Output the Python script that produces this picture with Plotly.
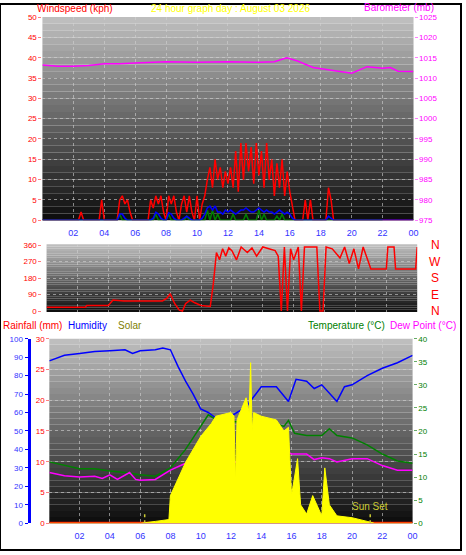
import plotly.graph_objects as go

# ---- top panel: wind & barometer ----
wind_t = [i / 6 for i in range(145)]
gust = [0, 0, 0, 0, 0, 0,
        0, 0, 0, 0, 0, 0,
        0, 0, 0, 2, 0, 0,
        0, 0, 0, 0, 0, 5,
        0, 0, 0, 0, 0, 0,
        5, 6, 4, 5, 2, 0,
        0, 0, 0, 0, 0, 0,
        5, 3, 6, 4, 6, 2,
        0, 6, 4, 6, 2, 0,
        4, 6, 2, 6, 2, 0,
        6, 0, 4, 6, 10, 13,
        8, 15, 10, 13, 8, 12,
        9, 13, 8, 17, 7, 19,
        10, 19, 12, 18, 9, 19,
        11, 17, 8, 19, 10, 15,
        6, 14, 8, 15, 6, 12,
        7, 3, 0, 0, 0, 0,
        5, 0, 5, 0, 0, 0,
        0, 0, 0, 8, 5, 0,
        0, 0, 0, 0, 0, 0,
        0, 0, 0, 0, 0, 0,
        0, 0, 0, 0, 0, 0,
        0, 0, 0, 0, 0, 0,
        0, 0, 0, 0, 0, 0, 0]
avg = [0, 0, 0, 0, 0, 0,
       0, 0, 0, 0, 0, 0,
       0, 0, 0, 0, 0, 0,
       0, 0, 0, 0, 0, 0,
       0, 0, 0, 0, 0, 0,
       1.5, 1.5, 0.5, 0, 0, 0,
       0, 0, 0, 0, 0, 0,
       0, 0.5, 2, 1.5, 0.5, 0,
       0, 1.8, 1.5, 0.5, 0, 0,
       0, 0.5, 1, 0.5, 0, 0,
       0, 0, 0.5, 1.5, 3, 3.5,
       2.5, 3.5, 2, 2, 1.5, 2.5,
       2, 2.5, 2, 1.5, 2, 2.5,
       2.5, 3, 2.5, 2, 2, 2.5,
       3, 2.5, 2, 2.5, 2, 2,
       1.5, 2, 2.5, 2, 1.5, 2,
       1.5, 0.5, 0, 0, 0, 0,
       0, 0, 0, 0, 0, 0,
       0, 0, 0, 1, 0.5, 0,
       0, 0, 0, 0, 0, 0,
       0, 0, 0, 0, 0, 0,
       0, 0, 0, 0, 0, 0,
       0, 0, 0, 0, 0, 0,
       0, 0, 0, 0, 0, 0, 0]
inst = [0] * 30 + [1.5, 0, 0, 0, 0, 0] + [0] * 6 + [0, 0, 1.5, 0, 0, 0] + [0, 1.5, 0, 0, 0, 0] + \
       [0, 0, 1, 0, 0, 0] + [0, 0, 0, 0, 2.5, 0] + [2.5, 0, 1.5, 0, 0, 0] + [0, 0, 1.5, 0, 0, 0] + \
       [0, 1.5, 0, 0, 0, 0] + [2.5, 0, 1.5, 0, 0, 0] + [0, 1, 0, 1.5, 0, 0] + [0] * 37
baro_t = [0, 1, 2, 3, 4, 5, 6, 7, 8, 10, 12, 14, 15, 15.8, 16.5, 17.5, 19, 20, 21, 22, 22.5, 23, 24]
baro = [1013.2, 1012.9, 1012.9, 1013.1, 1013.5, 1013.5, 1013.7, 1013.9, 1014, 1013.9, 1014, 1013.9,
        1014, 1015, 1014.2, 1012.6, 1011.8, 1011.2, 1012.8, 1012.4, 1012.6, 1011.7, 1011.6]

# ---- middle panel: wind direction ----
dir_t = [0, 2.5, 2.6, 4, 4.3, 5, 6, 7.5, 7.8, 8.0, 8.3, 8.6, 8.8, 9.0, 9.3, 9.6, 10, 10.6, 10.8, 11,
         11.2, 11.4, 11.6, 11.8, 12, 12.3, 12.6, 13, 13.3, 13.6, 14, 14.4, 14.8, 15.0, 15.2, 15.4, 15.6,
         15.8, 16.0, 16.3, 16.5, 16.7, 17, 17.5, 17.7, 17.9, 18.1, 18.5, 19, 19.3, 19.6, 19.9, 20.2,
         20.5, 21, 21.5, 22, 22.1, 22.5, 22.6, 23.5, 23.9, 24]
wdir = [20, 20, 30, 30, 60, 55, 55, 55, 70, 95, 40, 5, 0, 40, 60, 45, 30, 25, 150, 320, 280, 340, 300,
        345, 330, 280, 350, 320, 345, 300, 350, 340, 330, 300, 0, 350, 0, 340, 280, 350, 0, 350, 350,
        350, 0, 0, 350, 340, 290, 350, 260, 340, 230, 350, 230, 230, 230, 350, 350, 230, 230, 230, 350]

# ---- bottom panel: temps, humidity, solar ----
temp_t = [0, 1, 2, 3, 4, 5, 6, 7, 8, 9, 10, 10.5, 11, 11.5, 12, 12.5, 13, 13.5, 14, 15, 15.5, 15.8,
          16.2, 17, 18, 18.5, 19, 20, 21, 22, 23, 24]
temp = [13.3, 12.5, 11.8, 11.8, 11.3, 11, 10.5, 10.2, 12, 16, 21, 23.5, 22.5, 22.5, 22, 22, 22, 20.5,
        21, 21.5, 21, 22.3, 19.5, 19, 19, 20.5, 19, 18.5, 17, 15, 13.5, 13]
dew_t = [0, 1, 2, 3, 3.5, 4, 4.5, 5.3, 5.7, 6, 7, 8, 9, 9.5, 10, 10.5, 11, 11.3, 12, 12.5, 13, 14, 15,
         15.5, 16, 17, 17.5, 18, 18.5, 19, 20, 21, 22, 23, 24]
dew = [11, 10.3, 10, 10.2, 9.7, 10.5, 9.5, 11, 9.5, 9.3, 9.5, 11.5, 13, 15, 15.5, 16, 15, 13.5, 13.5, 13,
       14.5, 16, 16.5, 16, 15, 15, 13.8, 14.2, 14, 13.3, 14, 14, 12.5, 11.5, 11.5]
hum_t = [0, 1, 2, 3, 4, 5, 5.5, 6, 7, 7.5, 8, 8.5, 9, 9.5, 10, 10.5, 11, 11.5, 12, 13, 14, 15, 15.8,
         16.3, 17, 17.5, 18, 19, 19.5, 20, 21, 22, 23, 24]
hum = [88, 91, 92, 93, 93.5, 94, 92, 93.5, 94, 95, 94, 85, 77, 70, 62, 60, 57, 57, 58, 63, 74, 74, 66,
       78, 77, 73, 75, 66, 74, 75, 80, 84, 87, 91]
solar_t = [0, 6, 7, 7.9, 8, 9, 10, 10.7, 11, 12, 12.2, 12.3, 12.4, 12.6, 13, 13.2, 13.3, 13.4, 13.5, 14,
           15, 15.5, 15.8, 16, 16.4, 16.6, 17, 17.4, 17.8, 18, 18.2, 18.5, 19, 20, 21, 21.5, 24]
solar = [0, 0, 10, 20, 150, 330, 470, 540, 580, 600, 580, 220, 560, 600, 680, 600, 870, 500, 600, 580,
         560, 500, 520, 150, 350, 100, 50, 150, 80, 40, 300, 100, 40, 30, 10, 0, 0]
rain_t = [0, 24]
rain = [0, 0]

hours = [2, 4, 6, 8, 10, 12, 14, 16, 18, 20, 22, 24]
hour_labels = ["02", "04", "06", "08", "10", "12", "14", "16", "18", "20", "22", "00"]

FONT = "Liberation Sans"
fig = go.Figure()
fig.add_trace(go.Scatter(x=wind_t, y=gust, mode="lines", line=dict(color="#ff0000", width=1.5), xaxis="x", yaxis="y"))
fig.add_trace(go.Scatter(x=wind_t, y=inst, mode="lines", line=dict(color="#008000", width=1.5), xaxis="x", yaxis="y"))
fig.add_trace(go.Scatter(x=wind_t, y=avg, mode="lines", line=dict(color="#0000ff", width=1.5), xaxis="x", yaxis="y"))
fig.add_trace(go.Scatter(x=baro_t, y=baro, mode="lines", line=dict(color="#ff00ff", width=1.5), xaxis="x", yaxis="y2"))
fig.add_trace(go.Scatter(x=dir_t, y=wdir, mode="lines", line=dict(color="#ff0000", width=1.5), xaxis="x2", yaxis="y3"))
fig.add_trace(go.Scatter(x=solar_t, y=solar, mode="lines", fill="tozeroy", fillcolor="#ffff00",
                         line=dict(color="#ffff00", width=1), xaxis="x3", yaxis="y7"))
fig.add_trace(go.Scatter(x=hum_t, y=hum, mode="lines", line=dict(color="#0000ff", width=1.5), xaxis="x3", yaxis="y5"))
fig.add_trace(go.Scatter(x=temp_t, y=temp, mode="lines", line=dict(color="#008000", width=1.5), xaxis="x3", yaxis="y6"))
fig.add_trace(go.Scatter(x=dew_t, y=dew, mode="lines", line=dict(color="#ff00ff", width=1.5), xaxis="x3", yaxis="y6"))
fig.add_trace(go.Scatter(x=rain_t, y=rain, mode="lines", line=dict(color="#ff0000", width=3), xaxis="x3", yaxis="y4"))

xcommon = dict(range=[0, 24], tickvals=hours, ticktext=hour_labels, showgrid=True,
               gridcolor="rgba(210,210,210,0.6)", griddash="dot", zeroline=False,
               tickfont=dict(color="#3333ff", size=9, family=FONT), ticks="", showline=False,
               ticklabelstandoff=6)
ycommon = dict(showgrid=True, gridcolor="rgba(210,210,210,0.6)", griddash="dot", zeroline=False,
               ticks="outside", ticklen=3, showline=False)

fig.update_layout(
    width=466, height=555, margin=dict(l=0, r=0, t=0, b=0), showlegend=False,
    paper_bgcolor="white", plot_bgcolor="rgba(0,0,0,0)",
    xaxis=dict(xcommon, domain=[0.092, 0.897], anchor="y"),
    yaxis=dict(ycommon, domain=[0.604, 0.976], range=[0, 50], dtick=5,
               tickfont=dict(color="#ff0000", size=8, family=FONT), tickcolor="#ff8080"),
    yaxis2=dict(overlaying="y", side="right", range=[975, 1025], dtick=5, showgrid=False, zeroline=False,
                ticks="outside", ticklen=3, tickcolor="#ff80ff",
                tickfont=dict(color="#ff00ff", size=8, family=FONT)),
    xaxis2=dict(xcommon, domain=[0.101, 0.905], anchor="y3", showticklabels=False),
    yaxis3=dict(ycommon, domain=[0.436, 0.560], range=[-5, 365], tickvals=[0, 90, 180, 270, 360],
                tickfont=dict(color="#ff0000", size=8, family=FONT), tickcolor="#ff8080"),
    xaxis3=dict(xcommon, domain=[0.107, 0.895], anchor="y4"),
    yaxis4=dict(ycommon, domain=[0.049, 0.387], range=[0, 30], dtick=5, anchor="free", position=0.107,
                tickfont=dict(color="#ff0000", size=8, family=FONT), tickcolor="#ff8080"),
    yaxis5=dict(overlaying="y4", anchor="free", position=0.062, range=[0, 100], dtick=10, showgrid=False,
                zeroline=False, showline=True, linecolor="#0000ff", linewidth=3, ticks="outside", ticklen=3,
                tickcolor="#0000ff", tickfont=dict(color="#3333ff", size=8, family=FONT)),
    yaxis6=dict(overlaying="y4", side="right", anchor="x3", range=[0, 40], dtick=5, showgrid=False,
                zeroline=False, ticks="outside", ticklen=3, tickcolor="#66aa66",
                tickfont=dict(color="#008000", size=8, family=FONT)),
    yaxis7=dict(overlaying="y4", range=[0, 1000], visible=False),
)

# grey to black gradient behind each panel
shapes = []
for xa, ya in [("x", "y"), ("x2", "y3"), ("x3", "y4")]:
    n = 30
    for i in range(n):
        g = int(190 - 175 * (n - 1 - i) / (n - 1))
        shapes.append(dict(type="rect", xref=xa + " domain", yref=ya + " domain", x0=0, x1=1,
                           y0=i / n, y1=(i + 1) / n, fillcolor=f"rgb({g},{g},{g})", line=dict(width=0),
                           layer="below"))
shapes.append(dict(type="line", xref="x3", yref="y7", x0=6.3, x1=6.3, y0=0, y1=60,
                   line=dict(color="#cccc33", width=1.5, dash="dot")))
shapes.append(dict(type="line", xref="x3", yref="y7", x0=21.2, x1=21.2, y0=0, y1=60,
                   line=dict(color="#cccc33", width=1.5, dash="dot")))
shapes.append(dict(type="rect", xref="paper", yref="paper", x0=0, x1=1, y0=0, y1=1,
                   line=dict(color="black", width=2)))
fig.update_layout(shapes=shapes)

def label(text, x, y, color, size=10, xanchor="left"):
    fig.add_annotation(text=text, x=x, y=y, xref="paper", yref="paper", showarrow=False,
                       xanchor=xanchor, yanchor="middle", font=dict(color=color, size=size, family=FONT))

label("Windspeed (kph)", 35 / 466, 1 - 5 / 555, "#ff0000")
label("24 hour graph day : August 03 2026", 0.5, 1 - 5 / 555, "#ffff00", xanchor="center")
label("Barometer (mb)", 441 / 466, 1 - 4 / 555, "#ff00ff", xanchor="right")
for i, d in enumerate(["N", "W", "S", "E", "N"]):
    label(d, 440 / 466, 1 - (245 + i * 16.8) / 555, "#ff0000", size=12, xanchor="center")
label("Rainfall (mm)", 1 / 466, 1 - 327 / 555, "#ff0000")
label("Humidity", 67 / 466, 1 - 327 / 555, "#0000ff")
label("Solar", 117 / 466, 1 - 327 / 555, "#808000")
label("Temperature (°C)", 391 / 466, 1 - 327 / 555, "#008000", xanchor="right")
label("Dew Point (°C)", 463 / 466, 1 - 327 / 555, "#ff00ff", xanchor="right")
fig.add_annotation(text="Sun Set", x=21.2, y=90, xref="x3", yref="y7", showarrow=False,
                   font=dict(color="#cccc33", size=10, family=FONT))

fig.write_html("out.html", config={"displayModeBar": False},
               post_script="document.body.style.margin='0';document.body.style.overflow='hidden';")
